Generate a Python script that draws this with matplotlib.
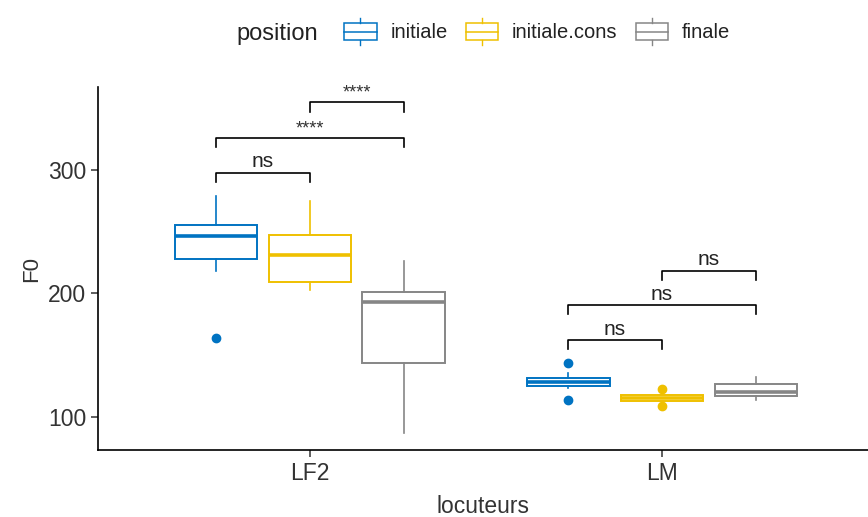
import numpy as np
import matplotlib
matplotlib.use("Agg")
import matplotlib.pyplot as plt
from matplotlib.lines import Line2D
from matplotlib.patches import Rectangle
from matplotlib.legend_handler import HandlerBase

plt.rcParams['font.family'] = ['Liberation Sans', 'DejaVu Sans']

# data
locuteurs = ["LF2", "LM"]
positions = ["initiale", "initiale.cons", "finale"]
colors = ["#0073C2", "#EFC000", "#868686"]

# per locuteur, per position: whislo, q1, med, q3, whishi
lf2_stats = [
    [218.5, 227.7, 246.8, 255.0, 279.0],
    [202.8, 209.6, 231.0, 247.4, 275.0],
    [86.8, 144.0, 193.4, 201.5, 226.6],
]
lm_stats = [
    [123.2, 125.4, 128.6, 131.3, 135.6],
    [113.0, 113.0, 115.0, 117.8, 117.8],
    [113.8, 117.0, 120.5, 126.4, 132.0],
]
lf2_fliers = [[163.7], [], []]
lm_fliers = [[143.4, 113.8], [122.7, 109.2], []]

# comparisons: (locuteur index, pos a, pos b, bracket height, label)
comparisons = [
    (0, 0, 1, 297.8, "ns"),
    (0, 0, 2, 325.6, "****"),
    (0, 1, 2, 354.5, "****"),
    (1, 0, 1, 162.3, "ns"),
    (1, 0, 2, 190.7, "ns"),
    (1, 1, 2, 218.5, "ns"),
]

fig = plt.figure(figsize=(8.68, 5.17), dpi=100)
ax = fig.add_axes([98 / 868, 67 / 517, 770 / 868, 363 / 517])

dodge = 0.8 / 3
box_w = 0.235


def xpos(g, p):
    return g + 1 + (p - 1) * dodge


all_stats = [lf2_stats, lm_stats]
all_fliers = [lf2_fliers, lm_fliers]
for g in range(2):
    for p in range(3):
        s = all_stats[g][p]
        st = dict(whislo=s[0], q1=s[1], med=s[2], q3=s[3], whishi=s[4],
                  fliers=all_fliers[g][p])
        c = colors[p]
        ax.bxp([st], positions=[xpos(g, p)], widths=box_w, patch_artist=True,
               showcaps=False,
               boxprops=dict(facecolor="white", edgecolor=c, linewidth=1.4),
               medianprops=dict(color=c, linewidth=2.6),
               whiskerprops=dict(color=c, linewidth=1.2),
               flierprops=dict(marker="o", markerfacecolor=c, markeredgecolor=c,
                               markersize=6))

tip = 7.5
for g, a, b, h, lab in comparisons:
    x1, x2 = xpos(g, a), xpos(g, b)
    ax.plot([x1, x1, x2, x2], [h - tip, h, h, h - tip], color="black", lw=1.2)
    if lab == "ns":
        ax.text((x1 + x2) / 2, h + 1, lab, ha="center", va="bottom", fontsize=15,
                color="#222222")
    else:
        ax.text((x1 + x2) / 2, h + 0.5, lab, ha="center", va="bottom",
                fontsize=13, color="#333333")

ax.set_xlim(0.398, 2.585)
ax.set_ylim(73.3, 367)
ax.set_xticks([1, 2])
ax.set_xticklabels(locuteurs)
ax.set_yticks([100, 200, 300])
ax.tick_params(labelsize=16.5, length=5, width=1.1, colors="#333333",
               labelcolor="#333333")
ax.spines["top"].set_visible(False)
ax.spines["right"].set_visible(False)
for sp in ["left", "bottom"]:
    ax.spines[sp].set_linewidth(1.2)
ax.set_xlabel("locuteurs", fontsize=16.5, color="#333333", labelpad=7)
ax.set_ylabel("F0", fontsize=16, color="#333333", labelpad=4)


class BoxHandler(HandlerBase):
    def create_artists(self, legend, orig_handle, xdescent, ydescent, width,
                       height, fontsize, trans):
        c = orig_handle.get_color()
        x0, y0 = -xdescent, -ydescent
        cx = x0 + width / 2
        r = Rectangle((x0 + width * 0.05, y0 - height * 0.05), width * 0.9,
                      height * 1.1, fc="white", ec=c, lw=1.1, transform=trans)
        m = Line2D([x0 + width * 0.05, x0 + width * 0.95],
                   [y0 + height * 0.5] * 2, color=c, lw=1.1, transform=trans)
        t = Line2D([cx, cx], [y0 + height * 1.05, y0 + height * 1.4],
                   color=c, lw=1.0, transform=trans)
        bt = Line2D([cx, cx], [y0 - height * 0.4, y0 - height * 0.05],
                    color=c, lw=1.0, transform=trans)
        return [r, m, t, bt]


handles = [Line2D([], [], color=c) for c in colors]
fig.text(236 / 868, 1 - 34 / 517, "position", fontsize=17, color="#222222",
         ha="left", va="center")
fig.legend(handles, positions, handler_map={Line2D: BoxHandler()},
           loc="center left", bbox_to_anchor=(332 / 868, 1 - 33 / 517),
           ncol=3, frameon=False, fontsize=14.5, handlelength=1.8,
           handleheight=0.8, handletextpad=0.6, columnspacing=0.8,
           borderpad=0, labelcolor="#222222")

fig.savefig("out.png", dpi=100, facecolor="white")
